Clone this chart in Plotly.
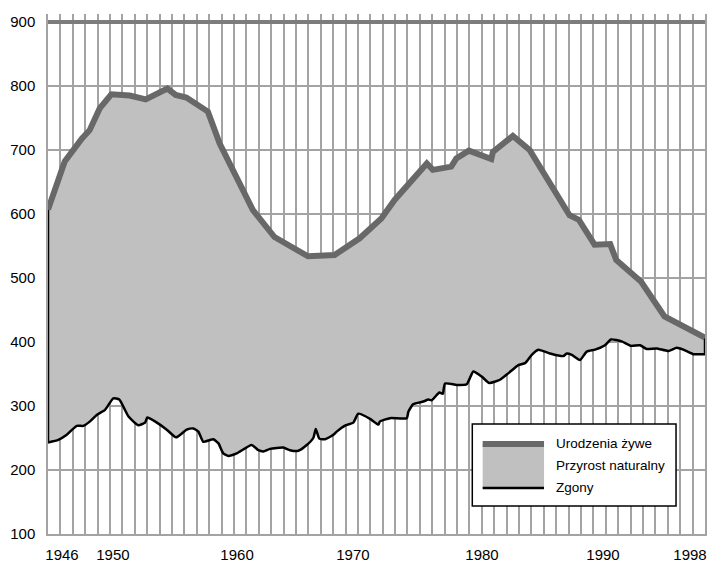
import plotly.graph_objects as go

# Births (Urodzenia żywe), thousands — x in years (gridline scale)
births_x = [1946.00, 1947.35, 1948.74, 1949.36, 1950.17, 1951.11, 1952.59, 1953.88,
            1955.63, 1956.30, 1957.16, 1958.90, 1959.85, 1962.53, 1964.27, 1966.97,
            1969.12, 1971.14, 1972.89, 1973.96, 1976.56, 1977.05, 1978.53, 1978.94,
            1979.95, 1981.76, 1981.89, 1983.50, 1984.85, 1988.07, 1988.82, 1990.09,
            1991.35, 1991.84, 1993.85, 1995.73, 1999.00]
births_y = [607, 682, 718, 731, 765, 787, 785, 779,
            796, 786, 782, 760, 710, 606, 564, 534,
            536, 562, 593, 622, 679, 669, 674, 687,
            699, 686, 697, 722, 700, 598, 591, 552,
            553, 528, 494, 440, 407]

# Deaths (Zgony), thousands
deaths_x = [1946.00, 1946.83, 1947.51, 1948.32, 1948.85, 1949.39, 1949.93, 1950.60,
            1951.27, 1951.75, 1952.48, 1953.28, 1953.83, 1954.01, 1954.63, 1955.58,
            1956.33, 1957.19, 1957.72, 1958.13, 1958.53, 1959.07, 1959.34, 1959.74,
            1960.14, 1960.55, 1961.22, 1962.43, 1962.97, 1963.37, 1963.91, 1964.98,
            1965.52, 1966.19, 1966.87, 1967.40, 1967.60, 1967.89, 1968.35, 1969.02,
            1969.29, 1970.04, 1970.63, 1971.03, 1971.98, 1972.65, 1972.78, 1973.59,
            1974.94, 1975.07, 1975.47, 1976.28, 1976.68, 1976.95, 1977.57, 1977.84,
            1978.03, 1978.97, 1979.78, 1980.31, 1980.99, 1981.60, 1982.46, 1983.13,
            1983.94, 1984.48, 1985.02, 1985.55, 1986.50, 1987.57, 1987.84, 1988.25,
            1988.92, 1989.46, 1990.13, 1990.93, 1991.42, 1992.28, 1993.03, 1993.76,
            1994.30, 1995.10, 1996.04, 1996.72, 1997.25, 1998.06, 1999.00]
deaths_y = [243, 247, 255, 269, 269, 276, 286, 294,
            312, 310, 284, 270, 274, 282, 276, 263,
            251, 263, 265, 260, 244, 247, 248, 242,
            226, 222, 226, 239, 231, 229, 233, 235,
            231, 230, 239, 250, 264, 249, 248, 255,
            260, 270, 274, 288, 280, 271, 276, 281,
            281, 291, 303, 307, 310, 309, 321, 319,
            335, 333, 334, 354, 346, 336, 341, 351,
            364, 367, 380, 388, 382, 378, 382, 380,
            372, 385, 388, 395, 404, 401, 394, 395,
            389, 390, 386, 391, 388, 381, 381]

# Tick labels (positions on the gridline scale)
xtick_vals = [1947.13, 1951.24, 1961.25, 1970.60, 1981.01, 1990.77, 1997.79]
xtick_text = ["1946", "1950", "1960", "1970", "1980", "1990", "1998"]
ytick_vals = [100, 200, 300, 400, 500, 600, 700, 800, 900]

legend_labels = ["Urodzenia żywe", "Przyrost naturalny", "Zgony"]

BIRTH_COL = "#686868"
FILL_COL = "#c0c0c0"
GRID_COL = "#a3a3a3"
FONT = "Liberation Sans, Arial, sans-serif"

fig = go.Figure()

# Natural increase area
poly_x = list(births_x) + list(deaths_x[::-1])
poly_y = list(births_y) + list(deaths_y[::-1])
fig.add_trace(go.Scatter(x=poly_x, y=poly_y, fill="toself", fillcolor=FILL_COL,
                         mode="lines", line=dict(width=0), hoverinfo="skip",
                         showlegend=False))

# Deaths line
fig.add_trace(go.Scatter(x=deaths_x, y=deaths_y, mode="lines",
                         line=dict(color="black", width=2.5, shape="spline", smoothing=0.5),
                         showlegend=False))
# vertical edges of the area
fig.add_trace(go.Scatter(x=[births_x[0], deaths_x[0]], y=[births_y[0], deaths_y[0]],
                         mode="lines", line=dict(color="black", width=2.5), showlegend=False))
fig.add_trace(go.Scatter(x=[births_x[-1], deaths_x[-1]], y=[births_y[-1], deaths_y[-1]],
                         mode="lines", line=dict(color="black", width=2.5), showlegend=False))

# Births line
fig.add_trace(go.Scatter(x=births_x, y=births_y, mode="lines",
                         line=dict(color=BIRTH_COL, width=6),
                         showlegend=False))

# Legend (manual)
lx0, lx1 = 0.6458, 0.9559
ly0, ly1 = 0.0538, 0.2115
sx0, sx1 = 0.6616, 0.755
rows = [0.1731, 0.1308, 0.0885]
shapes = [
    dict(type="line", xref="paper", yref="y", x0=0, x1=1, y0=900, y1=900,
         line=dict(color="#7c7c7c", width=4)),
    dict(type="rect", xref="paper", yref="paper", x0=lx0, x1=lx1, y0=ly0, y1=ly1,
         line=dict(color="black", width=1.5), fillcolor="white"),
    dict(type="rect", xref="paper", yref="paper", x0=sx0, x1=sx1, y0=rows[2], y1=rows[0],
         line=dict(width=0), fillcolor=FILL_COL),
    dict(type="line", xref="paper", yref="paper", x0=sx0, x1=sx1, y0=rows[0], y1=rows[0],
         line=dict(color=BIRTH_COL, width=6)),
    dict(type="line", xref="paper", yref="paper", x0=sx0, x1=sx1, y0=rows[2], y1=rows[2],
         line=dict(color="black", width=2.5)),
]
annotations = [
    dict(xref="paper", yref="paper", x=0.7702, y=ry, text=t, showarrow=False,
         xanchor="left", yanchor="middle",
         font=dict(family=FONT, size=13.5, color="#000"))
    for t, ry in zip(legend_labels, rows)
]

fig.update_layout(
    width=709, height=562,
    margin=dict(l=48, r=4, t=14, b=28, autoexpand=False),
    paper_bgcolor="white", plot_bgcolor="white",
    font=dict(family=FONT, size=15, color="#000"),
    showlegend=False,
    shapes=shapes,
    annotations=annotations,
)
fig.update_xaxes(
    range=[1946, 1999], tickmode="array", tickvals=xtick_vals, ticktext=xtick_text,
    showgrid=False, zeroline=False, ticks="", ticklabelstandoff=6, automargin=False,
    showline=True, linecolor=GRID_COL, linewidth=2,
    minor=dict(tickmode="linear", tick0=1946, dtick=1, showgrid=True,
               gridcolor=GRID_COL, gridwidth=1.5, ticks=""),
)
fig.update_yaxes(
    range=[100, 912.5], tickmode="array", tickvals=ytick_vals, automargin=False,
    showgrid=True, gridcolor=GRID_COL, gridwidth=2, zeroline=False, ticks="",
    ticklabelstandoff=8, showline=True, linecolor=GRID_COL, linewidth=1.5, mirror=True,
)

fig.write_html("out.html", config={"displayModeBar": False},
               post_script="document.body.style.margin='0';document.body.style.padding='0';")
